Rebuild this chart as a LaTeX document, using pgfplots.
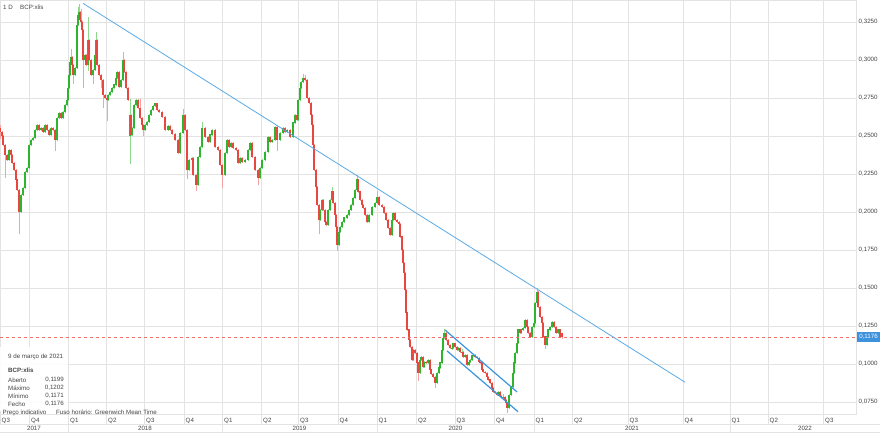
\documentclass[border=0pt]{standalone}
\usepackage{pgfplots}
\pgfplotsset{compat=1.18}
\usepackage{pgfplotstable}
\usepackage{fontspec}
\setmainfont{Liberation Sans}
\definecolor{upc}{HTML}{2DB52D}
\definecolor{upw}{HTML}{8FD98F}
\definecolor{dnc}{HTML}{E8463F}
\definecolor{dnw}{HTML}{F5A3A0}
\definecolor{tl}{HTML}{5AAAE6}
\definecolor{ch}{HTML}{3C95DC}
\definecolor{gridc}{HTML}{E3E3E3}
\definecolor{txt}{HTML}{444444}
\definecolor{lastc}{HTML}{F0706A}
\definecolor{boxc}{HTML}{3D92DE}
\newcommand\sm{\fontsize{6.2}{7.4}\selectfont}
\pgfplotstableread{
x o h l c
0 0.2553 0.2566 0.2487 0.2526
2 0.2526 0.2526 0.2500 0.2500
3 0.2500 0.2500 0.2441 0.2441
5 0.2441 0.2441 0.2230 0.2375
7 0.2375 0.2375 0.2342 0.2342
9 0.2342 0.2408 0.2342 0.2408
11 0.2408 0.2408 0.2375 0.2375
12 0.2375 0.2375 0.2322 0.2322
14 0.2322 0.2322 0.2276 0.2276
16 0.2276 0.2276 0.2211 0.2211
17 0.2211 0.2211 0.2145 0.2145
19 0.2145 0.2145 0.1862 0.2000
21 0.2000 0.2112 0.2000 0.2112
23 0.2112 0.2158 0.2112 0.2158
25 0.2158 0.2263 0.2158 0.2263
27 0.2263 0.2289 0.2263 0.2289
29 0.2289 0.2441 0.2289 0.2441
31 0.2441 0.2474 0.2441 0.2474
33 0.2474 0.2487 0.2474 0.2487
35 0.2487 0.2539 0.2487 0.2539
37 0.2539 0.2572 0.2539 0.2572
39 0.2572 0.2572 0.2539 0.2539
41 0.2539 0.2553 0.2539 0.2553
43 0.2553 0.2553 0.2526 0.2526
45 0.2526 0.2572 0.2526 0.2572
47 0.2572 0.2572 0.2539 0.2539
49 0.2539 0.2539 0.2507 0.2507
51 0.2507 0.2553 0.2507 0.2553
53 0.2553 0.2553 0.2539 0.2539
55 0.2539 0.2539 0.2408 0.2474
57 0.2474 0.2618 0.2474 0.2618
59 0.2618 0.2651 0.2618 0.2651
61 0.2651 0.2651 0.2618 0.2618
63 0.2618 0.2658 0.2618 0.2658
65 0.2658 0.2704 0.2658 0.2704
67 0.2704 0.2737 0.2704 0.2737
68 0.2737 0.2816 0.2737 0.2816
69 0.2816 0.2901 0.2816 0.2901
70 0.2901 0.2987 0.2901 0.2987
71 0.2987 0.3066 0.2987 0.3020
72 0.3020 0.3020 0.2967 0.2967
73 0.2967 0.2967 0.2849 0.2901
75 0.2901 0.2947 0.2901 0.2947
77 0.2947 0.3230 0.2947 0.3230
78 0.3230 0.3342 0.3230 0.3296
79 0.3296 0.3362 0.3296 0.3316
80 0.3316 0.3316 0.3263 0.3263
81 0.3263 0.3329 0.3250 0.3250
82 0.3250 0.3250 0.3197 0.3197
83 0.3197 0.3197 0.2822 0.3000
85 0.3000 0.3033 0.3000 0.3033
86 0.3033 0.3033 0.2967 0.2967
88 0.2967 0.3276 0.2934 0.3132
89 0.3132 0.3132 0.3000 0.3000
91 0.3000 0.3000 0.2901 0.2901
93 0.2901 0.2934 0.2849 0.2934
95 0.2934 0.3033 0.2934 0.3033
96 0.3033 0.3178 0.3033 0.3132
97 0.3132 0.3132 0.2967 0.2967
99 0.2967 0.2967 0.2901 0.2901
101 0.2901 0.2901 0.2822 0.2868
103 0.2868 0.2868 0.2691 0.2770
105 0.2770 0.2770 0.2750 0.2750
107 0.2750 0.2750 0.2605 0.2737
108 0.2737 0.2770 0.2737 0.2770
110 0.2770 0.2789 0.2770 0.2789
112 0.2789 0.2816 0.2789 0.2816
114 0.2816 0.2836 0.2816 0.2836
116 0.2836 0.2882 0.2836 0.2882
117 0.2882 0.2921 0.2882 0.2921
119 0.2921 0.2921 0.2822 0.2822
121 0.2822 0.2868 0.2822 0.2868
123 0.2868 0.3046 0.2868 0.3000
124 0.3000 0.3000 0.2921 0.2921
126 0.2921 0.2921 0.2816 0.2816
128 0.2816 0.2816 0.2737 0.2737
130 0.2500 0.2737 0.2322 0.2638
131 0.2638 0.2638 0.2507 0.2507
132 0.2507 0.2553 0.2507 0.2553
134 0.2553 0.2704 0.2553 0.2704
136 0.2704 0.2737 0.2704 0.2737
138 0.2737 0.2737 0.2684 0.2684
140 0.2684 0.2737 0.2618 0.2618
142 0.2618 0.2618 0.2572 0.2572
143 0.2572 0.2572 0.2507 0.2539
145 0.2539 0.2572 0.2539 0.2572
147 0.2572 0.2592 0.2572 0.2592
149 0.2592 0.2638 0.2592 0.2638
151 0.2638 0.2671 0.2638 0.2671
153 0.2671 0.2697 0.2671 0.2697
155 0.2697 0.2711 0.2697 0.2711
157 0.2711 0.2711 0.2671 0.2671
159 0.2671 0.2671 0.2658 0.2658
162 0.2658 0.2658 0.2625 0.2625
165 0.2625 0.2625 0.2539 0.2539
168 0.2539 0.2566 0.2539 0.2566
170 0.2566 0.2566 0.2539 0.2539
172 0.2539 0.2539 0.2513 0.2513
175 0.2513 0.2513 0.2474 0.2474
178 0.2474 0.2474 0.2388 0.2388
180 0.2388 0.2520 0.2388 0.2520
183 0.2520 0.2671 0.2520 0.2638
185 0.2638 0.2638 0.2539 0.2539
187 0.2539 0.2539 0.2224 0.2276
189 0.2276 0.2342 0.2276 0.2342
192 0.2342 0.2355 0.2342 0.2355
193 0.2355 0.2355 0.2243 0.2243
196 0.2243 0.2243 0.2145 0.2178
198 0.2178 0.2362 0.2178 0.2362
200 0.2362 0.2428 0.2362 0.2428
202 0.2428 0.2586 0.2428 0.2553
205 0.2553 0.2553 0.2493 0.2493
208 0.2493 0.2493 0.2461 0.2461
210 0.2461 0.2507 0.2461 0.2507
212 0.2507 0.2539 0.2507 0.2539
215 0.2539 0.2539 0.2428 0.2428
218 0.2428 0.2428 0.2408 0.2408
220 0.2408 0.2408 0.2309 0.2309
222 0.2309 0.2309 0.2164 0.2243
225 0.2243 0.2388 0.2243 0.2388
227 0.2388 0.2474 0.2388 0.2474
229 0.2474 0.2474 0.2428 0.2428
231 0.2428 0.2454 0.2428 0.2454
233 0.2454 0.2454 0.2421 0.2421
236 0.2421 0.2421 0.2408 0.2408
238 0.2408 0.2408 0.2322 0.2322
240 0.2322 0.2355 0.2322 0.2355
242 0.2355 0.2355 0.2329 0.2329
245 0.2329 0.2342 0.2329 0.2342
248 0.2342 0.2408 0.2342 0.2408
250 0.2408 0.2454 0.2408 0.2454
252 0.2454 0.2454 0.2362 0.2362
255 0.2362 0.2362 0.2276 0.2276
258 0.2276 0.2276 0.2184 0.2224
260 0.2224 0.2289 0.2224 0.2289
262 0.2289 0.2342 0.2289 0.2342
265 0.2342 0.2395 0.2342 0.2395
268 0.2395 0.2493 0.2395 0.2493
270 0.2493 0.2493 0.2461 0.2461
272 0.2461 0.2474 0.2461 0.2474
275 0.2474 0.2559 0.2474 0.2559
277 0.2559 0.2559 0.2408 0.2474
280 0.2474 0.2520 0.2474 0.2520
283 0.2520 0.2553 0.2520 0.2553
285 0.2553 0.2553 0.2526 0.2526
287 0.2526 0.2539 0.2526 0.2539
290 0.2539 0.2539 0.2493 0.2493
293 0.2493 0.2586 0.2493 0.2586
295 0.2586 0.2638 0.2586 0.2638
297 0.2638 0.2638 0.2605 0.2605
298 0.2605 0.2737 0.2605 0.2737
300 0.2737 0.2816 0.2737 0.2816
301 0.2816 0.2855 0.2816 0.2855
303 0.2855 0.2901 0.2855 0.2882
305 0.2882 0.2895 0.2868 0.2868
307 0.2868 0.2868 0.2750 0.2750
309 0.2750 0.2750 0.2717 0.2717
311 0.2717 0.2717 0.2638 0.2638
312 0.2638 0.2638 0.2572 0.2572
313 0.2572 0.2572 0.2441 0.2441
314 0.2441 0.2441 0.2276 0.2276
316 0.2276 0.2276 0.2164 0.2164
317 0.2164 0.2164 0.2046 0.2046
319 0.2046 0.2046 0.1862 0.1947
320 0.1947 0.2013 0.1947 0.2013
322 0.2013 0.2079 0.2013 0.2079
323 0.2079 0.2079 0.2013 0.2013
325 0.2013 0.2013 0.1934 0.1934
326 0.1934 0.1934 0.1914 0.1914
328 0.1914 0.2013 0.1914 0.2013
330 0.2013 0.2079 0.2013 0.2079
332 0.2079 0.2158 0.2079 0.2132
333 0.2132 0.2132 0.2059 0.2059
335 0.2059 0.2059 0.1980 0.1980
336 0.1980 0.1980 0.1901 0.1901
337 0.1901 0.1901 0.1750 0.1783
339 0.1783 0.1868 0.1783 0.1868
340 0.1868 0.1901 0.1868 0.1901
342 0.1901 0.1934 0.1901 0.1934
344 0.1934 0.1961 0.1934 0.1961
347 0.1961 0.1980 0.1961 0.1980
349 0.1980 0.2013 0.1980 0.2013
351 0.2013 0.2046 0.2013 0.2046
353 0.2046 0.2092 0.2046 0.2092
355 0.2092 0.2145 0.2092 0.2145
357 0.2145 0.2237 0.2145 0.2211
358 0.2211 0.2211 0.2132 0.2132
360 0.2132 0.2132 0.2079 0.2079
362 0.2079 0.2079 0.2046 0.2046
363 0.2046 0.2046 0.2026 0.2026
365 0.2026 0.2026 0.1980 0.1980
367 0.1980 0.1980 0.1934 0.1934
369 0.1934 0.1980 0.1934 0.1980
372 0.1980 0.2033 0.1980 0.2033
375 0.2033 0.2059 0.2033 0.2059
377 0.2059 0.2132 0.2059 0.2099
379 0.2099 0.2099 0.2046 0.2046
382 0.2046 0.2046 0.2033 0.2033
384 0.2033 0.2033 0.1993 0.1993
386 0.1993 0.1993 0.1947 0.1947
388 0.1947 0.1947 0.1895 0.1895
390 0.1895 0.1895 0.1849 0.1849
392 0.1849 0.1947 0.1849 0.1947
393 0.1947 0.1993 0.1947 0.1993
395 0.1993 0.1993 0.1947 0.1947
397 0.1947 0.1947 0.1934 0.1934
399 0.1934 0.1934 0.1921 0.1921
400 0.1921 0.1921 0.1836 0.1836
402 0.1836 0.1836 0.1750 0.1750
403 0.1750 0.1750 0.1664 0.1664
404 0.1664 0.1664 0.1599 0.1599
405 0.1599 0.1599 0.1487 0.1487
406 0.1487 0.1487 0.1336 0.1336
407 0.1336 0.1336 0.1224 0.1224
409 0.1224 0.1224 0.1158 0.1158
410 0.1158 0.1158 0.1112 0.1112
412 0.1112 0.1112 0.1026 0.1026
413 0.1026 0.1092 0.1026 0.1092
415 0.1092 0.1092 0.1072 0.1072
417 0.1072 0.1072 0.1007 0.1007
418 0.1007 0.1007 0.0895 0.0941
420 0.0941 0.1026 0.0941 0.1026
421 0.1026 0.1046 0.1026 0.1046
423 0.1046 0.1046 0.0980 0.0980
424 0.0980 0.1013 0.0980 0.1013
426 0.1013 0.1013 0.1007 0.1007
428 0.1007 0.1026 0.1007 0.1026
430 0.1026 0.1026 0.0961 0.0961
431 0.0961 0.0961 0.0934 0.0934
433 0.0934 0.0934 0.0914 0.0914
435 0.0914 0.0914 0.0849 0.0875
437 0.0875 0.0941 0.0875 0.0941
439 0.0941 0.0974 0.0941 0.0974
440 0.0974 0.1007 0.0974 0.1007
442 0.1007 0.1092 0.1007 0.1092
443 0.1092 0.1171 0.1092 0.1171
444 0.1171 0.1224 0.1171 0.1204
446 0.1204 0.1204 0.1158 0.1158
448 0.1158 0.1158 0.1125 0.1125
450 0.1125 0.1125 0.1105 0.1105
452 0.1105 0.1112 0.1099 0.1105
453 0.1105 0.1132 0.1105 0.1132
455 0.1132 0.1132 0.1112 0.1112
457 0.1112 0.1112 0.1092 0.1092
458 0.1092 0.1105 0.1092 0.1105
460 0.1105 0.1105 0.1079 0.1079
462 0.1079 0.1092 0.1072 0.1079
463 0.1079 0.1079 0.1046 0.1046
465 0.1046 0.1059 0.1046 0.1059
467 0.1059 0.1059 0.0993 0.0993
469 0.0993 0.1013 0.0993 0.1013
470 0.1013 0.1026 0.1013 0.1026
472 0.1026 0.1053 0.1026 0.1053
473 0.1053 0.1059 0.1053 0.1059
475 0.1059 0.1059 0.1046 0.1046
477 0.1046 0.1046 0.1039 0.1039
479 0.1039 0.1039 0.1013 0.1013
480 0.1013 0.1013 0.1007 0.1007
482 0.1007 0.1007 0.0961 0.0961
483 0.0961 0.0961 0.0947 0.0947
485 0.0947 0.0947 0.0941 0.0941
487 0.0941 0.0941 0.0914 0.0914
488 0.0914 0.0914 0.0895 0.0895
490 0.0895 0.0895 0.0875 0.0875
492 0.0875 0.0875 0.0842 0.0842
493 0.0842 0.0842 0.0816 0.0816
495 0.0816 0.0816 0.0809 0.0809
497 0.0809 0.0809 0.0796 0.0796
498 0.0796 0.0816 0.0796 0.0816
500 0.0816 0.0816 0.0789 0.0789
501 0.0789 0.0789 0.0783 0.0783
503 0.0783 0.0796 0.0776 0.0783
505 0.0783 0.0783 0.0763 0.0763
506 0.0763 0.0763 0.0743 0.0743
507 0.0743 0.0743 0.0684 0.0711
509 0.0711 0.0796 0.0711 0.0796
511 0.0796 0.0849 0.0796 0.0849
513 0.0849 0.0941 0.0849 0.0941
514 0.0941 0.1007 0.0941 0.1007
515 0.1007 0.1072 0.1007 0.1072
517 0.1072 0.1138 0.1072 0.1138
518 0.1138 0.1224 0.1138 0.1224
520 0.1224 0.1224 0.1204 0.1204
521 0.1204 0.1224 0.1204 0.1224
523 0.1224 0.1237 0.1224 0.1237
525 0.1237 0.1289 0.1237 0.1289
527 0.1289 0.1289 0.1243 0.1243
528 0.1243 0.1243 0.1204 0.1204
530 0.1204 0.1204 0.1178 0.1178
532 0.1178 0.1243 0.1178 0.1243
534 0.1243 0.1270 0.1243 0.1270
535 0.1270 0.1401 0.1270 0.1401
537 0.1401 0.1493 0.1401 0.1474
538 0.1474 0.1474 0.1375 0.1375
540 0.1375 0.1375 0.1309 0.1309
542 0.1309 0.1309 0.1270 0.1270
543 0.1270 0.1270 0.1178 0.1178
545 0.1178 0.1178 0.1105 0.1125
547 0.1125 0.1178 0.1125 0.1178
548 0.1178 0.1224 0.1178 0.1224
550 0.1224 0.1243 0.1224 0.1243
552 0.1243 0.1276 0.1243 0.1276
554 0.1276 0.1276 0.1243 0.1243
556 0.1243 0.1243 0.1204 0.1204
558 0.1204 0.1224 0.1204 0.1224
560 0.1224 0.1224 0.1178 0.1178
562 0.1199 0.1202 0.1171 0.1176
}\candles
\pgfplotsset{candle/.style={only marks, mark=*, mark size=0pt,
  mark options={draw=none, fill=none}, forget plot,
  error bars/y dir=plus, error bars/y explicit, error bars/error mark=none}}
\begin{document}
\begin{tikzpicture}
\path[use as bounding box] (0bp,0bp) rectangle (880bp,433bp);
\fill[white] (0bp,0bp) rectangle (880bp,433bp);
\begin{axis}[
  at={(0bp,19bp)}, anchor=south west,
  width=856bp, height=414bp, scale only axis,
  xmin=0, xmax=856, ymin=0.0671, ymax=0.3395,
  axis line style={draw=gridc, line width=0.8bp},
  xtick={0,29.5,68.5,106.5,144.5,184,222.5,261.5,298.5,338,377,416.5,455,494.5,534,572.5,628,683,730,768,823.5},
  xticklabels={},
  xmajorgrids, ymajorgrids,
  grid style={draw=gridc, line width=0.8bp},
  ytick={0.075,0.1,0.125,0.15,0.175,0.2,0.225,0.25,0.275,0.3,0.325},
  yticklabels={{0,0750},{0,1000},{0,1250},{0,1500},{0,1750},{0,2000},{0,2250},{0,2500},{0,2750},{0,3000},{0,3250}},
  yticklabel pos=right,
  yticklabel style={font=\sm, text=txt, anchor=west, inner sep=0pt, xshift=-7.5bp},
  tick align=outside,
  major tick length=10bp,
  xtick style={draw=gridc, line width=0.8bp},
  ytick style={draw=none},
  xtick pos=left,
]
% wicks
\addplot[candle, x filter/.expression={\thisrow{c}>=\thisrow{o} ? x : nan},
  error bars/error bar style={draw=upw, line width=0.7bp}]
  table[x=x, y expr=\thisrow{l}-0.0004, y error plus expr=\thisrow{h}-\thisrow{l}+0.0008]{\candles};
\addplot[candle, x filter/.expression={\thisrow{c}<\thisrow{o} ? x : nan},
  error bars/error bar style={draw=dnw, line width=0.7bp}]
  table[x=x, y expr=\thisrow{l}-0.0004, y error plus expr=\thisrow{h}-\thisrow{l}+0.0008]{\candles};
% bodies
\addplot[candle, x filter/.expression={\thisrow{c}>=\thisrow{o} ? x : nan},
  error bars/error bar style={draw=upc, line width=1.3bp}]
  table[x=x, y=o, y error plus expr=\thisrow{c}-\thisrow{o}+0.0003]{\candles};
\addplot[candle, x filter/.expression={\thisrow{c}<\thisrow{o} ? x : nan},
  error bars/error bar style={draw=dnc, line width=1.3bp}]
  table[x=x, y=c, y error plus expr=\thisrow{o}-\thisrow{c}+0.0003]{\candles};
% last price
\addplot[lastc, line width=0.9bp, dash pattern=on 3bp off 3bp, forget plot] coordinates {(0,0.1176) (856,0.1176)};
% trend lines
\addplot[tl, line width=0.8bp, forget plot] coordinates {(83,0.3373) (685,0.0880)};
\addplot[ch, line width=1.2bp, forget plot] coordinates {(445,0.1224) (517,0.0816)};
\addplot[ch, line width=1.2bp, forget plot] coordinates {(447,0.1086) (518,0.0686)};
\end{axis}
% last price label
\fill[boxc] (857bp,90.8bp) rectangle (880bp,100.8bp);
\node[font=\sm, text=white, inner sep=0pt] at (868.5bp,95.8bp) {0,1176};
% top-left title
\node[font=\sm, text=txt, anchor=west, inner sep=0pt] at (3bp,426bp) {1 D};
\node[font=\sm, text=txt, anchor=west, inner sep=0pt] at (20bp,426bp) {BCP:xlis};
% info box
\fill[white, opacity=0.9] (0bp,86bp) rectangle (68bp,22bp);
\node[font=\sm, text=txt, anchor=west, inner sep=0pt] at (8bp,76bp) {9 de março de 2021};
\node[font=\sm\bfseries, text=txt, anchor=west, inner sep=0pt] at (8bp,63bp) {BCP:xlis};
\node[font=\sm, text=txt, anchor=west, inner sep=0pt] at (8bp,53bp) {Aberto};
\node[font=\sm, text=txt, anchor=east, inner sep=0pt] at (64bp,53bp) {0,1199};
\node[font=\sm, text=txt, anchor=west, inner sep=0pt] at (8bp,45bp) {Máximo};
\node[font=\sm, text=txt, anchor=east, inner sep=0pt] at (64bp,45bp) {0,1202};
\node[font=\sm, text=txt, anchor=west, inner sep=0pt] at (8bp,37bp) {Mínimo};
\node[font=\sm, text=txt, anchor=east, inner sep=0pt] at (64bp,37bp) {0,1171};
\node[font=\sm, text=txt, anchor=west, inner sep=0pt] at (8bp,29bp) {Fecho};
\node[font=\sm, text=txt, anchor=east, inner sep=0pt] at (64bp,29bp) {0,1176};
\node[font=\sm, text=txt, anchor=west, inner sep=0pt] at (2.5bp,20.5bp) {Preço indicativo};
\node[font=\sm, text=txt, anchor=west, inner sep=0pt] at (56bp,20.5bp) {Fuso horário: Greenwich Mean Time};
% quarter labels
\foreach \p/\q in {0/Q3,29.5/Q4,68.5/Q1,106.5/Q2,144.5/Q3,184/Q4,222.5/Q1,261.5/Q2,298.5/Q3,338/Q4,377/Q1,416.5/Q2,455/Q3,494.5/Q4,534/Q1,572.5/Q2,628/Q3,683/Q4,730/Q1,768/Q2,823.5/Q3}
  \node[font=\sm, text=txt, anchor=west, inner sep=0pt] at ({(\p+1.5)*1bp},12bp) {\q};
% year row
\draw[gridc, line width=0.8bp] (0bp,9bp) -- (880bp,9bp);
\draw[gridc, line width=0.8bp] (0bp,1bp) -- (880bp,1bp);
\foreach \p in {68.5,222.5,377,534,730}
  \draw[gridc, line width=0.8bp] ({\p*1bp},9bp) -- ({\p*1bp},1bp);
\foreach \p/\y in {34/2017,145/2018,299.5/2019,455.5/2020,632/2021,805/2022}
  \node[font=\sm, text=txt, inner sep=0pt] at ({\p*1bp},4.5bp) {\y};
\end{tikzpicture}
\end{document}
